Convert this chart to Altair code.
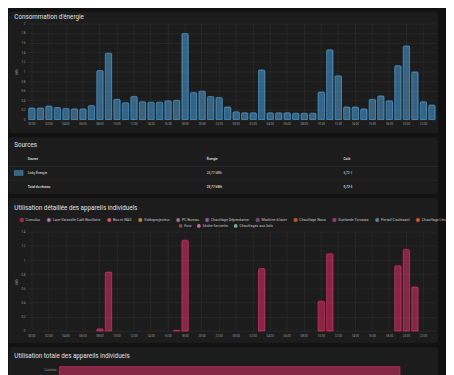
import altair as alt
import pandas as pd

# ---------------- data ----------------
titles = [
    "Consommation d'énergie",
    "Sources",
    "Utilisation détaillée des appareils individuels",
    "Utilisation totale des appareils individuels",
]

slots = list(range(48))
consumption_kwh = [
    0.24, 0.24, 0.28, 0.25, 0.23, 0.22, 0.22, 0.29, 1.02, 1.38, 0.42, 0.35,
    0.48, 0.37, 0.36, 0.36, 0.39, 0.40, 1.79, 0.56, 0.59, 0.48, 0.46, 0.26,
    0.16, 0.14, 0.14, 1.03, 0.14, 0.14, 0.14, 0.13, 0.13, 0.13, 0.57, 1.45,
    0.91, 0.26, 0.26, 0.22, 0.42, 0.49, 0.39, 1.12, 1.53, 0.99, 0.37, 0.30,
]
x_tick_slots = list(range(0, 48, 2))
y_ticks_consumption = [0, 0.2, 0.4, 0.6, 0.8, 1, 1.2, 1.4, 1.6, 1.8, 2]

table_rows = ["header", "linky", "total"]
table_source = ["Source", "Linky Énergie", "Total du réseau"]
table_energy = ["Énergie", "23,77 kWh", "23,77 kWh"]
table_cost = ["Coût", "5,72 €", "5,72 €"]

devices_row1 = [
    "Cumulus", "Lave-Vaisselle Café Bouilloire", "Box et NAS", "Vidéoprojecteur",
    "PC Bureau", "Chauffage Dépendance", "Machine à laver", "Chauffage Nous",
    "Guirlande Terrasse", "Portail Coulissant", "Chauffage Léo",
]
colors_row1 = [
    "#c42e60", "#bebada", "#fb8072", "#b3e900", "#80b1d3", "#7f80cd", "#44739e",
    "#af8d00", "#984ea3", "#00d2d5", "#ff7f00",
]
devices_row2 = ["Four", "Sèche-Serviette", "Chauffages aux Sols"]
colors_row2 = ["#a65628", "#f781bf", "#8dd3c7"]

cumulus_slots = [8, 9, 17, 18, 27, 34, 35, 43, 44, 45]
cumulus_kwh = [0.03, 0.83, 0.01, 1.28, 0.88, 0.42, 1.09, 0.92, 1.15, 0.62]
y_ticks_devices = [0, 0.2, 0.4, 0.6, 0.8, 1, 1.2, 1.4]

total_devices = ["Cumulus"]
total_kwh = [7.23]

# ---------------- style ----------------
PAGE = "#111111"
CARD = "#1c1c1c"
TXT = "#e1e1e1"
LBL = "#9e9e9e"
GRID = "#2e2e2e"
SEP = "#2c2c2c"
GRIDC = "#488fc2"
CUMULUS = colors_row1[0]
FONT = "Roboto"

W = 416.7
H1, H2, H3, H4 = 98, 42.6, 101.3, 10
S = 35.7
CARD_L, CARD_R = -19.36, 418.64
TITLE_X = -13.5
LABEL_EXPR = "(datum.value % 24 < 10 ? '0' : '') + (datum.value % 24) + ':00'"


def one(**kw):
    return alt.Data(values=[kw if kw else {"k": 1}])


def title_layer(text, y):
    return alt.Chart(one(t=text)).mark_text(
        align="left", baseline="middle", font=FONT, fontSize=6.4, color=TXT
    ).encode(x=alt.value(TITLE_X), y=alt.value(y), text="t:N")


# ---------------- card backgrounds ----------------
def card(y0, y1, round_bottom=True):
    rb = 3 if round_bottom else 0
    return alt.Chart(one()).mark_rect(
        color=CARD, cornerRadiusTopLeft=3, cornerRadiusTopRight=3,
        cornerRadiusBottomLeft=rb, cornerRadiusBottomRight=rb,
    ).encode(x=alt.value(CARD_L), x2=alt.value(CARD_R), y=alt.value(y0), y2=alt.value(y1))


panel0 = alt.layer(
    card(0, 124), card(128, 186), card(190, 338), card(342, 375, False)
).properties(width=W, height=1)

# ---------------- panel 1 : consumption ----------------
df1 = pd.DataFrame({"slot": slots, "kwh": consumption_kwh})
x_band = alt.Scale(domain=slots, paddingInner=0.25, paddingOuter=0.125)
x_axis = alt.Axis(values=x_tick_slots, labelExpr=LABEL_EXPR, title=None,
                  labelAngle=0, grid=True, labelPadding=3.5)

bars1 = alt.Chart(df1).mark_bar(
    fill=GRIDC, fillOpacity=0.62, stroke=GRIDC, strokeWidth=0.8,
    cornerRadiusTopLeft=1, cornerRadiusTopRight=1,
).encode(
    x=alt.X("slot:O", scale=x_band, axis=x_axis),
    y=alt.Y("kwh:Q", scale=alt.Scale(domain=[0, 2], nice=False),
            axis=alt.Axis(values=y_ticks_consumption, format="~g", title="kWh")),
)
p1 = alt.layer(bars1, title_layer(titles[0], -7)).properties(width=W, height=H1)

# ---------------- panel 2 : sources table ----------------
df2 = pd.DataFrame({"row": table_rows, "source": table_source,
                    "energy": table_energy, "cost": table_cost})
yrow = alt.Y("row:N", scale=alt.Scale(domain=table_rows, range=[4.3, 33.3], padding=0),
             axis=None)


def col(field, xpos, rows_sel, weight):
    return alt.Chart(df2).transform_filter(
        alt.FieldOneOfPredicate(field="row", oneOf=rows_sel)
    ).mark_text(
        align="left", baseline="middle", font=FONT, fontSize=3.35,
        fontWeight=weight, color=TXT,
    ).encode(x=alt.value(xpos), y=yrow, text=f"{field}:N")


def sep(y):
    return alt.Chart(one()).mark_rule(color=SEP, strokeWidth=0.7).encode(
        x=alt.value(CARD_L), x2=alt.value(CARD_R), y=alt.value(y)
    )


swatch = alt.Chart(df2).transform_filter(
    alt.FieldEqualPredicate(field="row", equal="linky")
).mark_point(
    shape="M-1,-0.55L1,-0.55L1,0.55L-1,0.55Z", size=77, filled=True,
    fill=GRIDC, fillOpacity=0.6, stroke=GRIDC, strokeWidth=0.6, opacity=1,
).encode(x=alt.value(-9.1), y=yrow)

layers2 = [sep(12.3), sep(26.3), swatch]
for f, xp in [("source", 0.15), ("energy", 182.6), ("cost", 322.1)]:
    layers2.append(col(f, xp, ["header", "total"], 500))
    layers2.append(col(f, xp, ["linky"], "normal"))
layers2.append(title_layer(titles[1], -9.7))
p2 = alt.layer(*layers2).properties(width=W, height=H2)

# ---------------- panel 3 : device detail ----------------
df3 = pd.DataFrame({"slot": cumulus_slots, "kwh": cumulus_kwh,
                    "device": ["Cumulus"] * len(cumulus_slots)})
legend_common = dict(
    orient="none", direction="horizontal", gridAlign="none", title=None,
    symbolType="circle", symbolSize=15, symbolStrokeWidth=0.7, symbolOpacity=0.8,
    labelFont=FONT, labelFontSize=3.75, labelColor="#c4c4c4",
    columnPadding=4.6, labelOffset=1.35, padding=0,
)
legend_r1 = alt.Legend(legendX=-8.4, legendY=210, columns=11, **legend_common)
legend_r2 = alt.Legend(legendX=153.5, legendY=216, columns=3, **legend_common)

bars3 = alt.Chart(df3).mark_bar(
    fillOpacity=0.62, stroke=CUMULUS, strokeWidth=0.8,
    cornerRadiusTopLeft=1, cornerRadiusTopRight=1,
).encode(
    x=alt.X("slot:O", scale=x_band, axis=x_axis),
    y=alt.Y("kwh:Q", scale=alt.Scale(domain=[0, 1.4], nice=False),
            axis=alt.Axis(values=y_ticks_devices, format="~g", title="kWh")),
    color=alt.Color("device:N", scale=alt.Scale(domain=devices_row1, range=colors_row1),
                    legend=legend_r1),
)
ghost = alt.Chart(df3).transform_filter("false").mark_point(
    filled=True, shape="circle"
).encode(
    fill=alt.Fill("device:N", scale=alt.Scale(domain=devices_row2, range=colors_row2),
                  legend=legend_r2),
)
p3 = alt.layer(bars3, ghost, title_layer(titles[2], -24)).properties(width=W, height=H3)

# ---------------- panel 4 : device totals ----------------
df4 = pd.DataFrame({"device": total_devices, "kwh": total_kwh})
ydev = alt.Y("device:N", scale=alt.Scale(paddingInner=0, paddingOuter=0), axis=None)
bar4 = alt.Chart(df4).mark_bar(
    fill=CUMULUS, fillOpacity=0.62, stroke=CUMULUS, strokeWidth=0.8
).encode(
    x=alt.X("kwh:Q", scale=alt.Scale(domain=[0, 8], range=[32.34, W], nice=False),
            axis=None),
    y=ydev,
)
label4 = alt.Chart(df4).mark_text(
    align="right", baseline="middle", font=FONT, fontSize=3.1, color=LBL, dy=-1.5
).encode(x=alt.value(29.4), y=ydev, text="device:N")
p4 = alt.layer(bar4, label4, title_layer(titles[3], -11)).properties(width=W, height=H4)

inner = alt.vconcat(p1, p2, p3, p4, spacing=S, bounds="flush")
chart = alt.vconcat(panel0, inner, spacing=11, bounds="flush").properties(
    padding=0, background=PAGE
).configure_view(stroke=None).configure_axis(
    labelFont=FONT, labelFontSize=3.0, labelColor=LBL, domain=False, ticks=False,
    gridColor=GRID, gridWidth=0.6, titleFont=FONT, titleFontSize=3.0,
    titleColor=LBL, titleFontWeight="normal", labelPadding=2.7, titlePadding=2.4,
)

chart.save("out.html", embed_options={"renderer": "svg", "actions": False})
